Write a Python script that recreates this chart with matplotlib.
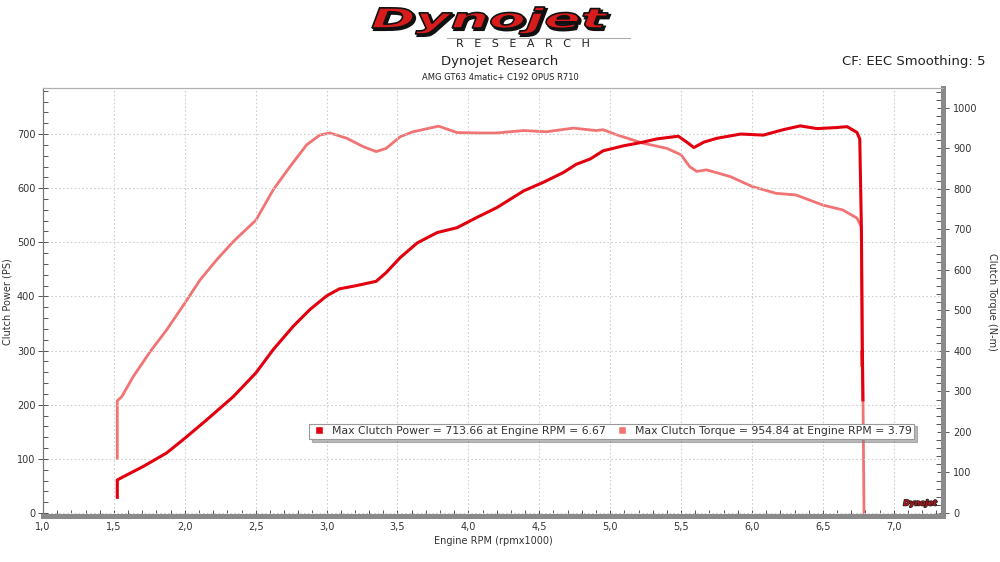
import matplotlib
matplotlib.use("Agg")
import matplotlib.pyplot as plt
import matplotlib.patheffects as pe
from matplotlib.lines import Line2D
from matplotlib.patches import PathPatch
from matplotlib.textpath import TextPath
from matplotlib.font_manager import FontProperties
from matplotlib.transforms import Affine2D, IdentityTransform
from matplotlib.ticker import MultipleLocator

# --- data ---
rpm_power = [1.524, 1.524, 1.566, 1.707, 1.872, 2.0, 2.154, 2.342, 2.502, 2.624, 2.765, 2.883,
             3.0, 3.09, 3.21, 3.35, 3.42, 3.52, 3.64, 3.78, 3.92, 4.06, 4.2, 4.39, 4.53, 4.67,
             4.76, 4.86, 4.95, 5.09, 5.23, 5.33, 5.48, 5.54, 5.59, 5.66, 5.75, 5.92, 6.08, 6.22,
             6.34, 6.46, 6.6, 6.67, 6.74, 6.76, 6.772, 6.778, 6.778, 6.782]
power_ps = [29, 61, 67, 86, 111, 138, 172, 215, 259, 302, 345, 376,
            401, 414, 420, 428, 444, 472, 499, 518, 527, 546, 564, 595, 611, 629,
            644, 654, 669, 678, 685, 691, 696, 685, 675, 685, 692, 700, 698, 708,
            715, 710, 712, 713.66, 703, 691, 520, 270, 300, 209]

rpm_torque = [1.524, 1.524, 1.555, 1.637, 1.755, 1.872, 2.0, 2.107, 2.225, 2.342, 2.502, 2.624,
              2.742, 2.86, 2.953, 3.024, 3.142, 3.26, 3.35, 3.42, 3.52, 3.61, 3.79, 3.92, 4.08,
              4.2, 4.39, 4.55, 4.74, 4.9, 4.95, 5.05, 5.23, 5.4, 5.5, 5.56, 5.61, 5.68, 5.85,
              6.0, 6.17, 6.31, 6.5, 6.64, 6.74, 6.77, 6.78, 6.79]
torque_nm = [135, 277, 287, 337, 398, 452, 518, 575, 625, 670, 723, 798,
             855, 909, 933, 938, 925, 904, 892, 900, 929, 941, 954.84, 939, 938,
             938, 944, 941, 950, 944, 946, 933, 913, 900, 884, 855, 843, 847, 830,
             806, 789, 785, 760, 748, 728, 707, 400, 0]

xticks = [1.0, 1.5, 2.0, 2.5, 3.0, 3.5, 4.0, 4.5, 5.0, 5.5, 6.0, 6.5, 7.0]
xtick_labels = ["1,0", "1,5", "2,0", "2,5", "3,0", "3,5", "4,0", "4,5", "5,0", "5,5", "6,0", "6,5", "7,0"]

dark = "#e2000f"
light = "#f27373"
grey = "#8a8a8a"
plt.rcParams['font.family'] = ['DejaVu Sans']

fig = plt.figure(figsize=(10, 5.62), dpi=100)
W, H = 1000, 562
# axes box in pixels: x 43..943, y 88..516
ax = fig.add_axes([43 / W, (H - 516) / H, 900 / W, 428 / H])
ax2 = ax.twinx()

ax.set_xlim(1.0, 7.347)
ax.set_ylim(-5.5, 785)
ax2.set_ylim(-7.4, 1049)

ax2.plot(rpm_torque, torque_nm, color=light, lw=2.0, solid_joinstyle="round", zorder=3)
ax.plot(rpm_power, power_ps, color=dark, lw=2.2, solid_joinstyle="round", zorder=3)
ax.set_zorder(ax2.get_zorder() + 1)
ax.patch.set_visible(False)

# grid
ax.grid(True, which="major", ls=(0, (1.5, 2)), color="#cfcfcf", lw=0.8)

# ticks
ax.set_xticks(xticks)
ax.set_xticklabels(xtick_labels)
ax.xaxis.set_minor_locator(MultipleLocator(0.1))
ax.yaxis.set_minor_locator(MultipleLocator(20))
ax2.yaxis.set_minor_locator(MultipleLocator(20))
ax2.set_yticks(range(0, 1001, 100))
ax.set_yticks(range(0, 701, 100))

ax.tick_params(axis="x", which="both", direction="in", length=4.5, width=0.7, color="#555555",
               labelsize=7, labelcolor="#333333", pad=4)
ax.tick_params(axis="y", which="major", direction="inout", length=7, width=0.7, color="#555555",
               labelsize=7, labelcolor="#333333", pad=2)
ax.tick_params(axis="y", which="minor", direction="in", length=3.5, width=0.7, color="#555555")
ax2.tick_params(axis="y", which="major", direction="inout", length=9, width=0.7, color="#555555",
                labelsize=7, labelcolor="#333333", pad=3)
ax2.tick_params(axis="y", which="minor", direction="in", length=5, width=0.7, color="#555555")

for a in (ax, ax2):
    a.spines["top"].set_color("#b0b0b0")
    a.spines["top"].set_linewidth(0.8)
    a.spines["left"].set_color("#777777")
    a.spines["left"].set_linewidth(0.8)
    a.spines["right"].set_color(grey)
    a.spines["right"].set_linewidth(3.5)
    a.spines["bottom"].set_color(grey)
    a.spines["bottom"].set_linewidth(3.5)

ax.set_ylabel("Clutch Power (PS)", fontsize=7, color="#333333", labelpad=3)
ax2.set_ylabel("Clutch Torque (N-m)", fontsize=7, color="#333333", rotation=270, labelpad=14)
ax.set_xlabel("Engine RPM (rpmx1000)", fontsize=7, color="#333333", labelpad=3)

# legend box
handles = [Line2D([], [], ls="none", marker="s", markersize=6, markerfacecolor=dark,
                  markeredgecolor="white"),
           Line2D([], [], ls="none", marker="s", markersize=6, markerfacecolor=light,
                  markeredgecolor="white")]
labels = ["Max Clutch Power = 713.66 at Engine RPM = 6.67",
          "Max Clutch Torque = 954.84 at Engine RPM = 3.79"]
leg = ax.legend(handles, labels, ncol=2, loc="center", bbox_to_anchor=(0.632, 0.198),
                fontsize=7.8, frameon=True, fancybox=False, shadow={"color": "#777777"},
                edgecolor="#999999", borderpad=0.25, handlelength=1.2, handletextpad=0.6,
                columnspacing=0.9, borderaxespad=0)
leg.get_frame().set_linewidth(0.8)
for t in leg.get_texts():
    t.set_color("#333333")

# small logo in the corner of the plot
ax.text(0.993, 0.02, "Dynojet", transform=ax.transAxes, ha="right", va="bottom",
        fontsize=5.5, fontweight="bold", style="italic", color="#c4161c",
        path_effects=[pe.withStroke(linewidth=1.2, foreground="#222222")])

# header logo, stretched to the box of the original (px 372..608, 7..34)
tp = TextPath((0, 0), "Dynojet", size=1,
              prop=FontProperties(family="DejaVu Sans", weight="heavy", style="italic"))
bb = tp.get_extents()
sx = (608 - 372) / bb.width
sy = (34 - 7) / bb.height
tr = Affine2D().translate(-bb.x0, -bb.y0).scale(sx, sy).translate(372, H - 34)
logo_shadow = PathPatch(tp, transform=tr + Affine2D().translate(2, -2) + IdentityTransform(),
                        facecolor="#111111", edgecolor="#111111", lw=1.5)
logo = PathPatch(tp, transform=tr + IdentityTransform(), facecolor="#d81c1c",
                 edgecolor="#111111", lw=1.2)
fig.add_artist(logo_shadow)
fig.add_artist(logo)

fig.add_artist(Line2D([447 / W, 630 / W], [1 - 38 / H, 1 - 38 / H], color="#aaaaaa", lw=0.8))
fig.text(0.523, 1 - 44 / H, "R   E   S   E   A   R   C   H", ha="center", va="center",
         fontsize=8, color="#222222")
fig.text(0.5, 1 - 62 / H, "Dynojet Research", ha="center", va="center", fontsize=9.5,
         color="#222222")
fig.text(0.5, 1 - 77 / H, "AMG GT63 4matic+ C192 OPUS R710", ha="center", va="center",
         fontsize=6, color="#222222")
fig.text(0.985, 1 - 62 / H, "CF: EEC Smoothing: 5", ha="right", va="center", fontsize=9.5,
         color="#222222")

fig.savefig("out.png", dpi=100)
